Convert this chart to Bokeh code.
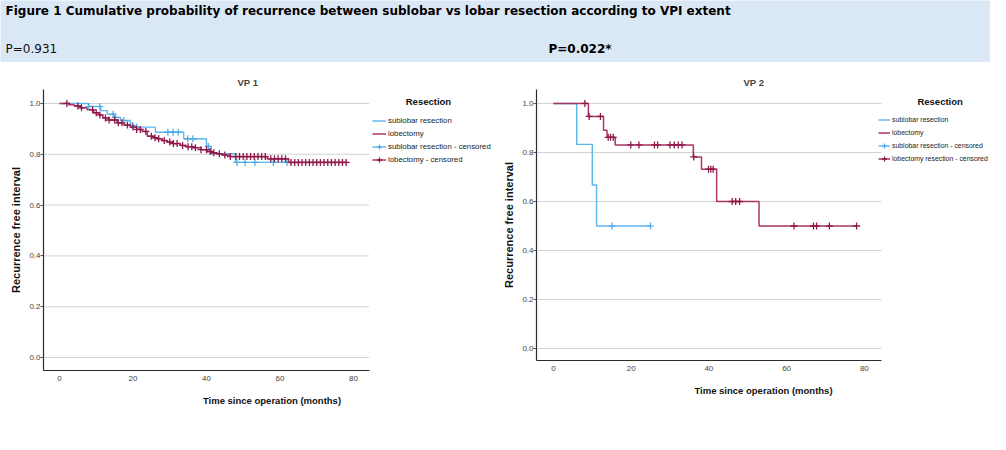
from bokeh.plotting import figure
from bokeh.layouts import column, row
from bokeh.models import Range1d, FixedTicker, Legend, LegendItem, Label, PrintfTickFormatter
from bokeh.core.properties import value
from bokeh.embed import file_html
from bokeh.resources import INLINE

# ---------------- data ----------------
HEADER_TITLE = "Figure 1  Cumulative probability of recurrence between sublobar vs lobar resection according to VPI extent"
P_LEFT = "P=0.931"
P_RIGHT = "P=0.022*"
PANEL_TITLES = ["VP 1", "VP 2"]
X_LABEL = "Time since operation (months)"
Y_LABEL = "Recurrence free interval"
LEGEND_TITLE = "Resection"
LEGEND_LABELS_1 = ["sublobar resection", "lobectomy", "sublobar resection - censored", "lobectomy - censored"]
LEGEND_LABELS_2 = ["sublobar resection", "lobectomy", "sublobar resection - censored", "lobectomy resection - censored"]
X_TICKS = [0, 20, 40, 60, 80]
Y_TICKS = [0.0, 0.2, 0.4, 0.6, 0.8, 1.0]

# VP1 sublobar resection
vp1_sub_t = [0, 7.9, 11.2, 13.0, 14.8, 16.6, 19.3, 20.5, 26.1, 33.8, 40.0, 41.3, 47.9, 62.4]
vp1_sub_s = [1.0, 0.988, 0.972, 0.958, 0.945, 0.933, 0.913, 0.907, 0.887, 0.861, 0.831, 0.802, 0.768, 0.768]
vp1_sub_cens = [8.0, 11.0, 14.6, 15.2, 17.5, 19.8, 21.0, 29.5, 30.9, 32.3, 34.9, 36.3, 40.5,
                48.3, 50.5, 53.2, 58.2, 61.9]
# VP1 lobectomy
vp1_lob_t = [0, 2.5, 4.0, 5.7, 7.5, 9.3, 10.8, 11.8, 13.5, 15.7, 17.5, 19.3, 21.0, 22.5, 23.9,
             25.5, 26.6, 28.0, 29.3, 31.0, 32.9, 34.5, 36.5, 38.5, 40.2, 41.5, 42.9, 44.5, 46.5,
             56.5, 62.4, 78.3]
vp1_lob_s = [1.0, 0.995, 0.99, 0.983, 0.975, 0.963, 0.955, 0.943, 0.935, 0.924, 0.915, 0.907, 0.898,
             0.89, 0.871, 0.865, 0.861, 0.854, 0.848, 0.842, 0.835, 0.83, 0.826, 0.818, 0.811, 0.806,
             0.802, 0.797, 0.791, 0.782, 0.768, 0.768]
vp1_lob_cens = [2, 5, 6, 9, 10, 11, 12.5, 13.5, 15, 16, 17, 18.5, 20, 21, 22, 23.5, 25, 26, 27, 28.5,
                30, 31, 32, 33.5, 35, 36, 37, 38.5, 40, 41, 42, 43.5, 45, 46.5, 48, 49, 50, 51, 52,
                53, 54, 55, 56, 57.5, 58.5, 59.5, 60.5, 61.5, 63, 64, 65, 66, 67, 68, 69, 70, 71,
                72, 73, 74, 75, 76, 77, 78]
# VP2 sublobar resection
vp2_sub_t = [0, 6.0, 10.0, 11.1, 25.1]
vp2_sub_s = [1.0, 0.833, 0.667, 0.5, 0.5]
vp2_sub_cens = [15.1, 25.0]
# VP2 lobectomy
vp2_lob_t = [0, 9.0, 12.9, 13.8, 15.9, 36.0, 38.1, 42.0, 52.9, 78.0]
vp2_lob_s = [1.0, 0.947, 0.891, 0.862, 0.831, 0.782, 0.732, 0.6, 0.5, 0.5]
vp2_lob_cens = [8.1, 9.2, 12.1, 14.1, 14.7, 15.4, 19.9, 22.0, 26.0, 26.8, 30.0, 31.1, 32.1, 33.1,
                36.1, 39.9, 40.5, 41.1, 46.0, 46.9, 47.9, 61.9, 66.9, 67.7, 71.0, 78.0]

# ---------------- style ----------------
BLUE = "#5cb6f0"
BLUE_MARK = "#4aa8e8"
RED = "#ac3466"
RED_MARK = "#8e1848"
FONT = "Liberation Sans"
BAND = "#dae7f5"
X_LO, X_HI = -4.35, 84.35


def surv_at(ts, ss, t):
    s = ss[0]
    for ti, si in zip(ts, ss):
        if ti <= t:
            s = si
    return s


def km_panel(width, height, bl, bt, bb, px_per_unit, y_lo, y_hi, title, title_offset, sub, lob,
             labels, leg_x, leg_y, lt_x, lt_y, leg_font, leg_glyph_w):
    frame_w = width - bl
    x_end = X_LO + frame_w / px_per_unit
    p = figure(width=width, height=height, output_backend="svg", toolbar_location=None,
               x_range=Range1d(X_LO, x_end), y_range=Range1d(y_lo, y_hi),
               min_border_left=bl, min_border_right=0, min_border_top=bt, min_border_bottom=bb)
    p.outline_line_color = None
    p.background_fill_color = "white"
    p.border_fill_color = "white"
    p.title.text = title
    p.title.align = "left"
    p.title.offset = title_offset
    p.title.text_font = FONT
    p.title.text_font_size = "9.5px"
    p.title.text_font_style = "bold"
    p.title.standoff = 3
    p.grid.visible = False

    # horizontal reference lines at the y ticks, spanning the axis extent
    p.segment(x0=[X_LO] * len(Y_TICKS), x1=[X_HI] * len(Y_TICKS), y0=Y_TICKS, y1=Y_TICKS,
              line_color="#a3a3a3", line_dash="1 1", line_width=1)

    for ax in (p.xaxis, p.yaxis):
        ax.axis_line_color = "#2b2b2b"
        ax.axis_line_width = 1.2
        ax.minor_tick_line_color = None
        ax.major_label_text_font = FONT
        ax.major_label_text_font_size = "8px"
        ax.major_label_text_color = "#444444"
        ax.axis_label_text_font = FONT
        ax.axis_label_text_font_style = "bold"
        ax.axis_label_text_color = "#111111"
    p.xaxis.bounds = (X_LO, X_HI)
    p.xaxis.ticker = FixedTicker(ticks=X_TICKS)
    p.xaxis.major_tick_line_color = None
    p.xaxis.major_tick_out = 0
    p.xaxis.major_label_standoff = 5
    p.xaxis.axis_label = X_LABEL
    p.xaxis.axis_label_text_font_size = "9.5px"
    p.xaxis.axis_label_standoff = 11
    p.yaxis.ticker = FixedTicker(ticks=Y_TICKS)
    p.yaxis.formatter = PrintfTickFormatter(format="%.1f")
    p.yaxis.major_tick_out = 3
    p.yaxis.major_tick_in = 0
    p.yaxis.major_tick_line_color = "#555555"
    p.yaxis.major_label_standoff = 0
    p.yaxis.axis_label = Y_LABEL
    p.yaxis.axis_label_text_font_size = "11px"
    p.yaxis.axis_label_standoff = 4

    (st, ss, sc), (lt, ls, lc) = sub, lob
    r_sub = p.step(x=st, y=ss, mode="after", line_color=BLUE, line_width=1.4)
    r_lob = p.step(x=lt, y=ls, mode="after", line_color=RED, line_width=1.5)
    r_subc = p.scatter(x=sc, y=[surv_at(st, ss, t) for t in sc], marker="cross", size=7,
                       line_color=BLUE_MARK, line_width=1.2)
    r_lobc = p.scatter(x=lc, y=[surv_at(lt, ls, t) for t in lc], marker="cross", size=7,
                       line_color=RED_MARK, line_width=1.3)

    leg = Legend(items=[LegendItem(label=labels[0], renderers=[r_sub]),
                        LegendItem(label=labels[1], renderers=[r_lob]),
                        LegendItem(label=labels[2], renderers=[r_sub, r_subc]),
                        LegendItem(label=labels[3], renderers=[r_lob, r_lobc])],
                 location=(leg_x, leg_y), padding=0, margin=0, spacing=0,
                 label_height=13, glyph_height=13, glyph_width=leg_glyph_w, label_standoff=2,
                 label_text_font=FONT, label_text_font_size=leg_font, label_text_color="#222222",
                 border_line_color=None, background_fill_alpha=0)
    p.add_layout(leg)
    p.add_layout(Label(x=lt_x, y=lt_y, text=LEGEND_TITLE,
                       text_font=FONT, text_font_style="bold", text_font_size="9.5px",
                       text_align="center", text_baseline="middle", text_color="#111111"))
    return p


# ---------------- header ----------------
h = figure(width=990, height=62, output_backend="svg", toolbar_location=None,
           x_range=Range1d(0, 990), y_range=Range1d(62, 0), x_axis_location=None,
           y_axis_location=None, min_border=0)
h.grid.visible = False
h.outline_line_color = None
h.background_fill_color = BAND
h.border_fill_color = BAND
h.add_layout(Label(x=5, y=10, text=HEADER_TITLE, text_font="DejaVu Sans", text_font_style="bold",
                   text_font_size="12px", text_baseline="middle", text_color="#000000"))
h.add_layout(Label(x=5, y=48, text=P_LEFT, text_font="DejaVu Sans",
                   text_font_size="12px", text_baseline="middle", text_color="#111111"))
h.add_layout(Label(x=548, y=48, text=P_RIGHT, text_font="DejaVu Sans", text_font_style="bold",
                   text_font_size="12px", text_baseline="middle", text_color="#000000"))

# panel 1: axis 1.0 -> y px 103, 0.0 -> 357, frame 89..370
p1 = km_panel(500, 348, 43, 27, 40, 3.675, -0.051, 1.055, PANEL_TITLES[0], 194,
              (vp1_sub_t, vp1_sub_s, vp1_sub_cens), (vp1_lob_t, vp1_lob_s, vp1_lob_cens),
              LEGEND_LABELS_1, 329, 204, 100.4, 1.008, "7.8px", 14)
# panel 2: axis 1.0 -> y px 103, 0.0 -> 348, frame 89..360
p2 = km_panel(490, 338, 33, 27, 40, 3.9125, -0.049, 1.057, PANEL_TITLES[1], 207,
              (vp2_sub_t, vp2_sub_s, vp2_sub_cens), (vp2_lob_t, vp2_lob_s, vp2_lob_cens),
              LEGEND_LABELS_2, 342, 195, 99.5, 1.01, "6.9px", 12)

layout = column(h, row(p1, p2))
open("out.html", "w").write(file_html(layout, INLINE))
